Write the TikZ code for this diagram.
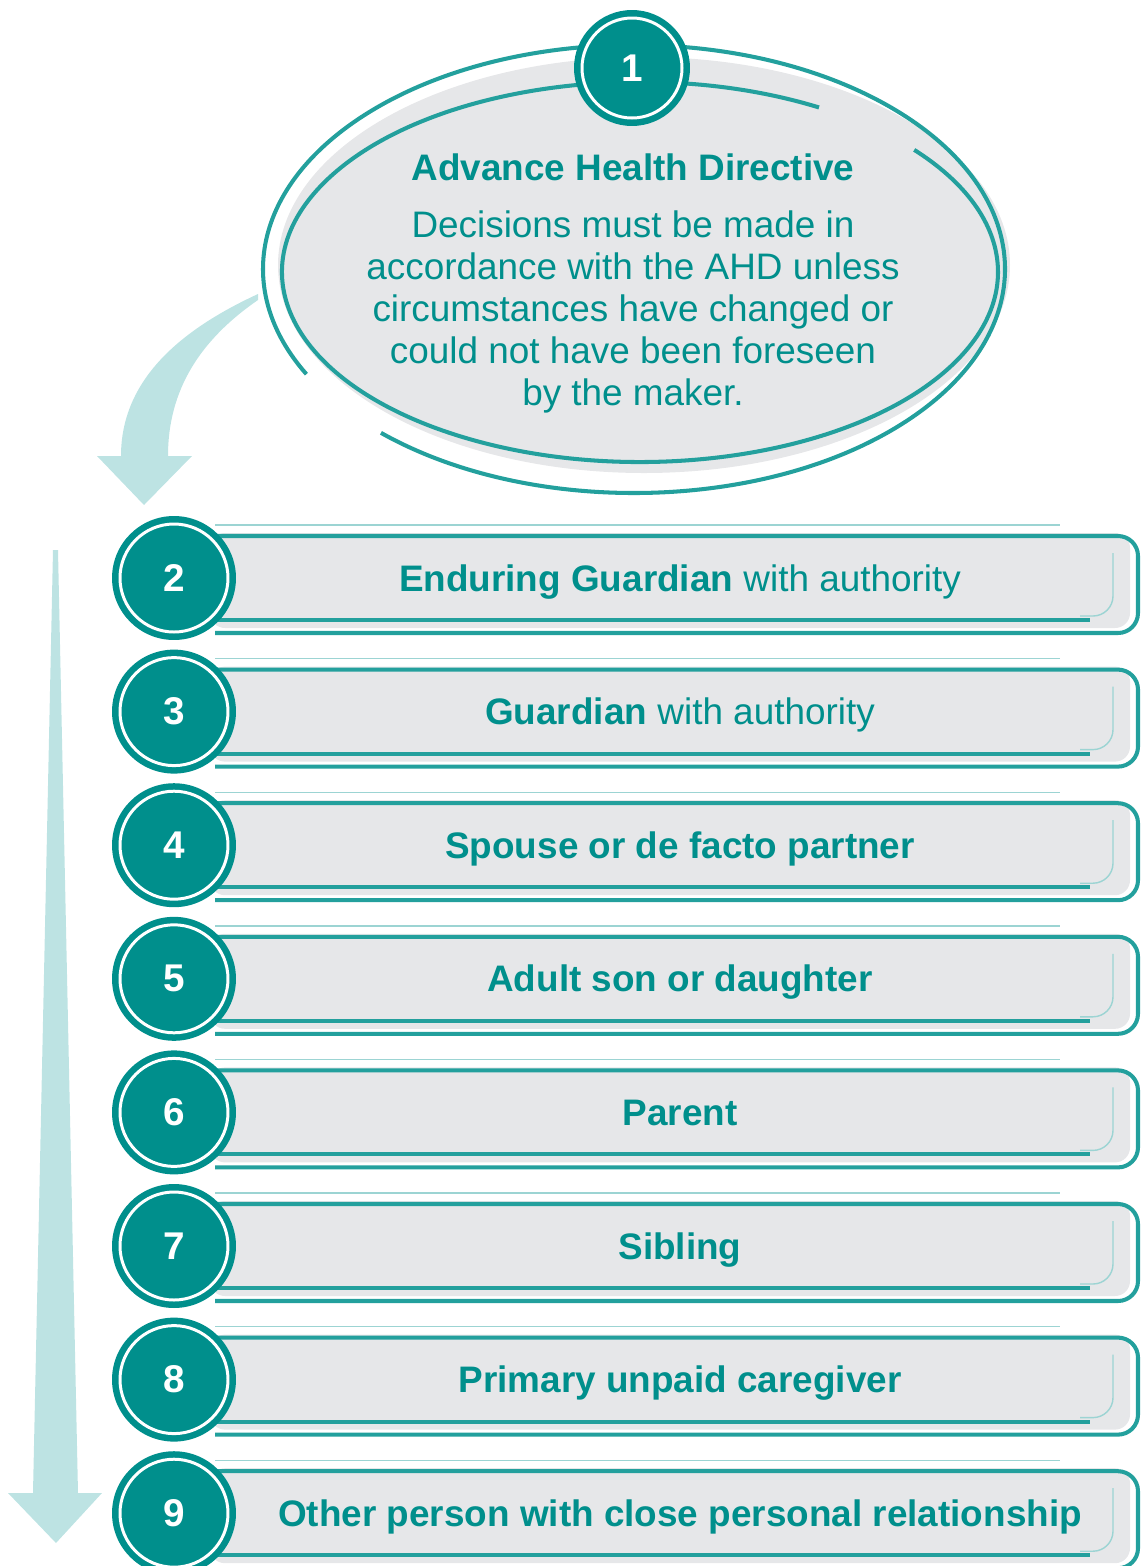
\documentclass[tikz,border=0pt]{standalone}
\usepackage{fontspec}
\setmainfont{Liberation Sans}
\usetikzlibrary{calc}
\definecolor{ahdTeal}{RGB}{0,143,140}
\definecolor{ahdLine}{RGB}{35,160,157}
\definecolor{ahdGrey}{RGB}{230,231,233}
\definecolor{ahdPale}{RGB}{189,227,227}

\begin{document}
\begin{tikzpicture}[
    x=0.02cm, y=0.02cm,
    numcirc/.style={circle, fill=ahdTeal, minimum size=2.48cm, inner sep=0pt, text=white, font=\fontsize{22}{26}\selectfont\bfseries},
    ring/.style={white, line width=1.7pt},
    rowtext/.style={anchor=base, text=ahdTeal, inner sep=0pt, font=\fontsize{21}{25}\selectfont},
    edge/.style={ahdLine, line width=2.3pt},
    sketch/.style={ahdLine!45, line width=0.8pt}
]
    \useasboundingbox (0,0) rectangle (1141,-1566);

    % pale arrows behind everything
    \fill[ahdPale] (258,-294) .. controls (180,-330) and (121,-380) .. (121,-456)
        -- (97,-456) -- (144,-505) -- (192,-456) -- (168,-456)
        .. controls (168,-390) and (200,-340) .. (258,-300) -- cycle;
    \fill[ahdPale] (53,-550) -- (33,-1493) -- (8,-1493) -- (56,-1543)
        -- (102,-1493) -- (78,-1493) -- (58,-550) -- cycle;

    % directive bubble
    \fill[ahdGrey] (644,-265) ellipse[x radius=366, y radius=208];
    \draw[edge] ($(634,-269)+(227:371 and 224)$) arc[start angle=227, end angle=568, x radius=371, y radius=224];
    \draw[edge] ($(640,-272)+(60:358 and 190)$) arc[start angle=60, end angle=400, x radius=358, y radius=190];

    \node[numcirc, minimum size=2.32cm] (n1) at (632,-68) {1};
    \draw[ring] (n1.center) circle[radius=50];
    \node[rowtext, font=\fontsize{21}{25}\selectfont\bfseries] (ahdtitle) at (633,-180) {Advance Health Directive};
    \node[text=ahdTeal, align=center, inner sep=0pt, font=\fontsize{21}{23.8}\selectfont] (ahdtext) at (633,-312)
        {Decisions must be made in\\accordance with the AHD unless\\circumstances have changed or\\could not have been foreseen\\by the maker.};

    % the other decision makers, in order
    \foreach \k/\lab in {2/{\textbf{Enduring Guardian} with authority},
                         3/{\textbf{Guardian} with authority},
                         4/{\textbf{Spouse or de facto partner}},
                         5/{\textbf{Adult son or daughter}},
                         6/{\textbf{Parent}},
                         7/{\textbf{Sibling}},
                         8/{\textbf{Primary unpaid caregiver}},
                         9/{\textbf{Other person with close personal relationship}}} {
        \pgfmathsetmacro\cy{578+(\k-2)*133.6}
        \fill[ahdGrey, rounded corners=0.3cm] (210,{-\cy+45}) rectangle (1130,{-\cy-50});
        \draw[sketch] (215,{-\cy+53}) -- (1060,{-\cy+53});
        \draw[edge, rounded corners=0.4cm] (215,{-\cy+42}) -- (1138,{-\cy+42}) -- (1138,{-\cy-55}) -- (215,{-\cy-55});
        \draw[edge] (215,{-\cy-42}) -- (1090,{-\cy-42});
        \draw[sketch, rounded corners=0.4cm] (1113,{-\cy+25}) -- (1113,{-\cy-38}) -- (1080,{-\cy-38});
        \node[numcirc] (n\k) at (174,-\cy) {\k};
        \draw[ring] (n\k.center) circle[radius=54];
        \node[rowtext] (r\k) at (680,{-\cy-13}) {\lab};
    }
\end{tikzpicture}
\end{document}
